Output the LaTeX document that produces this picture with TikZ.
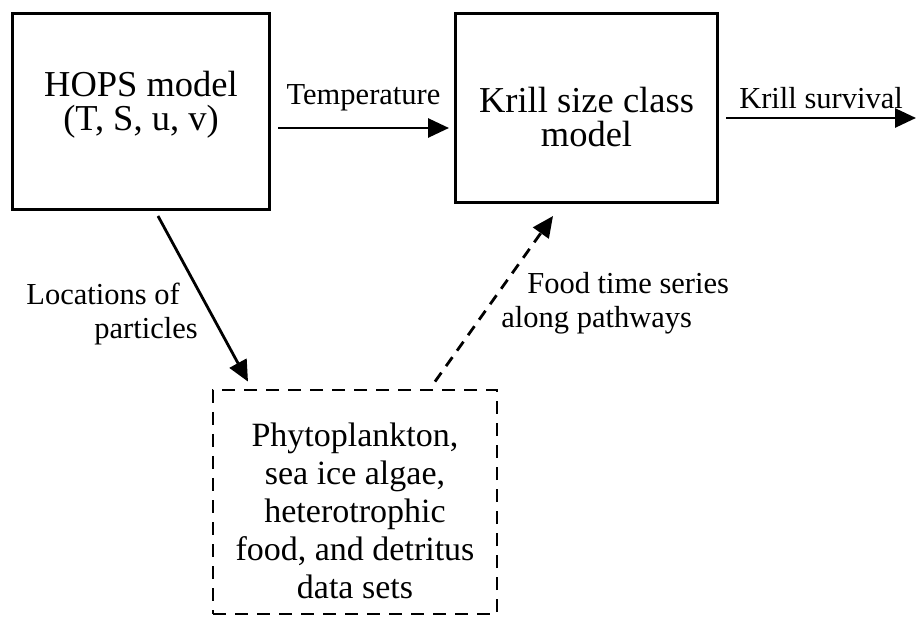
\documentclass[tikz,border=0pt]{standalone}
\usepackage{fontspec}
\setmainfont{Liberation Serif}
\usetikzlibrary{arrows.meta, positioning, calc}

\tikzset{
  modelbox/.style={draw, line width=3pt, inner sep=0pt},
  databox/.style={draw, line width=2.8pt, dash pattern=on 13pt off 9pt, inner sep=0pt},
  boxtext/.style={font=\fontsize{36.5}{34}\selectfont, align=center, inner sep=0pt},
  datatext/.style={font=\fontsize{34}{38}\selectfont, align=center, inner sep=0pt},
  flowlabel/.style={font=\fontsize{30.5}{34}\selectfont, inner sep=0pt},
  flow/.style={line width=2.8pt, -{Triangle[length=21pt,width=19pt]}},
  dashflow/.style={flow, dash pattern=on 11pt off 8pt}
}

\begin{document}
\begin{tikzpicture}[x=1pt, y=-1pt]
  \useasboundingbox (0,0) rectangle (916,617);
  % boxes
  \node[modelbox, minimum width=257pt, minimum height=196pt] (hops) at (141,111.5) {};
  \node[modelbox, minimum width=262pt, minimum height=189pt] (krill) at (586.5,108) {};
  \node[databox, minimum width=284pt, minimum height=224pt] (data) at (355,502) {};
  % box texts
  \node[boxtext] (hopstext) at ($(hops.center)+(0,-7)$) {HOPS model\\(T, S, u, v)};
  \node[boxtext] (krilltext) at ($(krill.center)+(0,9)$) {Krill size class\\model};
  \node[datatext] (datatext) at ($(data.center)+(0,9)$)
    {Phytoplankton,\\sea ice algae,\\heterotrophic\\food, and detritus\\data sets};
  % connectors
  \coordinate (out) at (916,118);
  \draw[flow] ($(hops.east)+(7,16.5)$) -- ($(krill.west|-hops.east)+(-5,16.5)$)
    node[midway, above=16pt, flowlabel] (temp) {Temperature};
  \draw[flow] ($(krill.east)+(7,10)$) -- (out)
    node[midway, above=8pt, flowlabel] (surv) {Krill survival};
  \draw[flow] ($(hops.south)+(17,5)$) -- ($(data.north)+(-107,-7)$)
    node[pos=0.59, anchor=east, xshift=-12pt, flowlabel, align=right] (loc)
    {Locations of\hspace*{18pt}\\particles};
  \draw[dashflow] ($(data.north)+(80,-7)$) -- ($(krill.south)+(-33.5,12)$)
    node[pos=0.5, anchor=west, xshift=6pt, yshift=-4pt, flowlabel, align=left] (food)
    {\hspace*{26pt}Food time series\\along pathways};
\end{tikzpicture}
\end{document}
